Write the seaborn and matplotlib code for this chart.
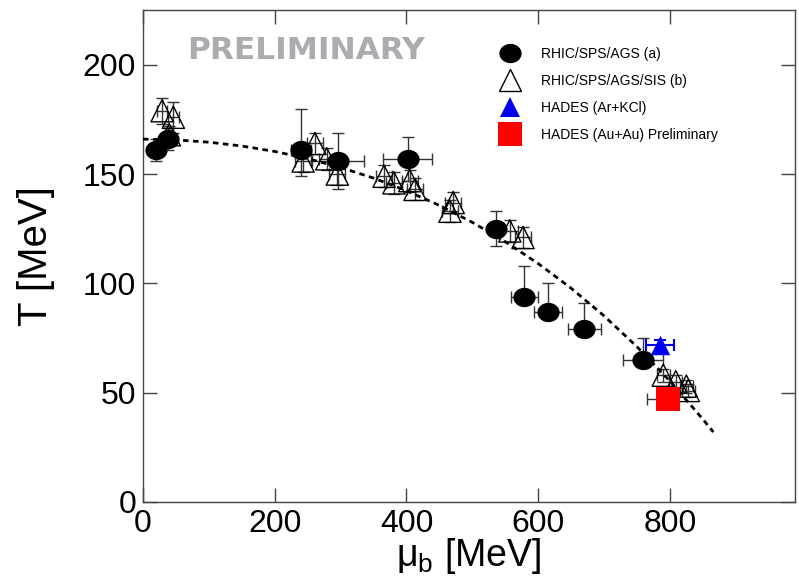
import numpy as np
import pandas as pd
import matplotlib
matplotlib.use("Agg")
import matplotlib.pyplot as plt
from matplotlib.path import Path
from matplotlib.lines import Line2D
import seaborn as sns

# --- chemical freeze-out points (mu_B, T) in MeV ---
# RHIC/SPS/AGS (a)
a_mu = [20, 38, 240, 296, 402, 536, 579, 615, 670, 759]
a_T = [161, 166, 161, 156, 157, 125, 94, 87, 79, 65]
a_T_lo = [5, 5, 12, 13, 10, 8, 3, 3, 3, 3]
a_T_hi = [5, 5, 19, 13, 10, 8, 14, 13, 12, 10]
a_mu_err = [10, 10, 15, 40, 37, 10, 20, 21, 25, 30]

# RHIC/SPS/AGS/SIS (b)
b_mu = [29, 46, 40, 243, 261, 279, 295, 366, 381, 405, 413, 471, 466, 557, 577, 790, 809, 825, 828]
b_T = [179, 176, 168, 156, 164, 157, 150, 149, 146, 147, 143, 137, 133, 124, 121, 58, 55, 53, 51]
b_T_err = [6, 7, 4, 5, 5, 5, 5, 5, 5, 5, 5, 5, 5, 5, 5, 3, 3, 3, 3]
b_mu_err = [8, 8, 6, 12, 12, 12, 12, 12, 12, 12, 12, 12, 12, 12, 12, 10, 10, 10, 10]

# HADES (Ar+KCl)
ar_mu = [785]
ar_T = [72]
ar_mu_err = [22]
ar_T_err = [2]

# HADES (Au+Au) preliminary
au_mu = [797]
au_T = [47]
au_mu_lo = [32]
au_mu_hi = [5]
au_T_err = [4]

# freeze-out curve
curve_mu = [0, 50, 100, 150, 200, 250, 300, 350, 400, 450, 500, 550, 600,
            650, 700, 750, 800, 850, 866]
curve_T = [166.0, 165.65, 164.6, 162.85, 160.36, 157.1, 153.06, 148.18, 142.40,
           135.68, 127.94, 119.10, 109.09, 97.81, 85.16, 71.04, 55.33, 37.91, 32.0]

legend_labels = ["RHIC/SPS/AGS (a)", "RHIC/SPS/AGS/SIS (b)",
                 "HADES (Ar+KCl)", "HADES (Au+Au) Preliminary"]

sns.set_theme(style="ticks")
plt.rcParams["font.family"] = ["Liberation Sans", "DejaVu Sans"]
plt.rcParams["mathtext.fontset"] = "custom"
plt.rcParams["mathtext.rm"] = "Liberation Sans"
plt.rcParams["text.color"] = "black"
plt.rcParams["axes.labelcolor"] = "black"

fig = plt.figure(figsize=(7.99, 5.80), dpi=100)
ax = fig.add_axes([0.179, 0.1345, 0.816, 0.848])

# slightly wide ellipse marker for the (a) points
uc = Path.unit_circle()
ellipse = Path(uc.vertices * np.array([1.15, 1.0]), uc.codes)

ecol = "#333333"
eb_kw = dict(fmt="none", ecolor=ecol, elinewidth=1.0, capsize=4, capthick=1.0, zorder=2)

ax.errorbar(b_mu, b_T, yerr=b_T_err, xerr=b_mu_err, **eb_kw)
ax.errorbar(a_mu, a_T, yerr=[a_T_lo, a_T_hi], xerr=a_mu_err, **eb_kw)
ax.errorbar(ar_mu, ar_T, yerr=ar_T_err, xerr=ar_mu_err, fmt="none", ecolor="#0000ee",
            elinewidth=1.5, capsize=4, capthick=1.5, zorder=2)
ax.errorbar(au_mu, au_T, yerr=au_T_err, xerr=[au_mu_lo, au_mu_hi], **eb_kw)

curve_df = pd.DataFrame({"mu": curve_mu, "T": curve_T})
sns.lineplot(data=curve_df, x="mu", y="T", ax=ax, color="black", lw=2.0,
             linestyle=(0, (2.0, 1.6)), sort=False, estimator=None, zorder=4)

b_df = pd.DataFrame({"mu": b_mu, "T": b_T})
sns.scatterplot(data=b_df, x="mu", y="T", ax=ax, marker="^", s=16 ** 2,
                facecolor="none", edgecolor="black", linewidth=1.0, zorder=3)

a_df = pd.DataFrame({"mu": a_mu, "T": a_T})
sns.scatterplot(data=a_df, x="mu", y="T", ax=ax, marker=ellipse, s=16 ** 2,
                color="black", edgecolor="black", linewidth=0, zorder=5)

ar_df = pd.DataFrame({"mu": ar_mu, "T": ar_T})
sns.scatterplot(data=ar_df, x="mu", y="T", ax=ax, marker="^", s=14 ** 2,
                color="#0000ee", edgecolor="#0000ee", linewidth=0, zorder=5)

au_df = pd.DataFrame({"mu": au_mu, "T": au_T})
sns.scatterplot(data=au_df, x="mu", y="T", ax=ax, marker="s", s=17 ** 2,
                color="#ff0000", edgecolor="#ff0000", linewidth=0, zorder=5)

ax.set_xlim(0, 990)
ax.set_ylim(0, 225)
ax.set_xticks([0, 200, 400, 600, 800])
ax.set_yticks([0, 50, 100, 150, 200])
ax.tick_params(direction="in", length=10, width=1.0, color="#444444",
               labelsize=23, top=True, right=True, pad=5, labelcolor="black")
for sp in ax.spines.values():
    sp.set_color("#444444")
    sp.set_linewidth(1.0)

ax.set_xlabel("\u03bc$_\\mathregular{b}$ [MeV]", fontsize=27, labelpad=-2)
ax.set_ylabel("T [MeV]", fontsize=29, labelpad=20)

ax.text(0.25, 0.918, "PRELIMINARY", transform=ax.transAxes, ha="center", va="center",
        fontsize=22.5, fontweight="bold", color="#ababb0", family="DejaVu Sans")

handles = [
    Line2D([], [], ls="none", marker=ellipse, ms=16, color="black", mec="black", mew=0),
    Line2D([], [], ls="none", marker="^", ms=16, mfc="none", mec="black", mew=1.0),
    Line2D([], [], ls="none", marker="^", ms=14, color="#0000ee", mec="#0000ee", mew=0),
    Line2D([], [], ls="none", marker="s", ms=17, color="#ff0000", mec="#ff0000", mew=0),
]
ax.legend(handles, legend_labels, loc="upper left", bbox_to_anchor=(0.610, 0.941),
          bbox_transform=fig.transFigure, frameon=False, fontsize=10,
          handlelength=1.4, handletextpad=1.53, labelspacing=0.94, borderpad=0.4)

fig.savefig("out.png", dpi=100)
